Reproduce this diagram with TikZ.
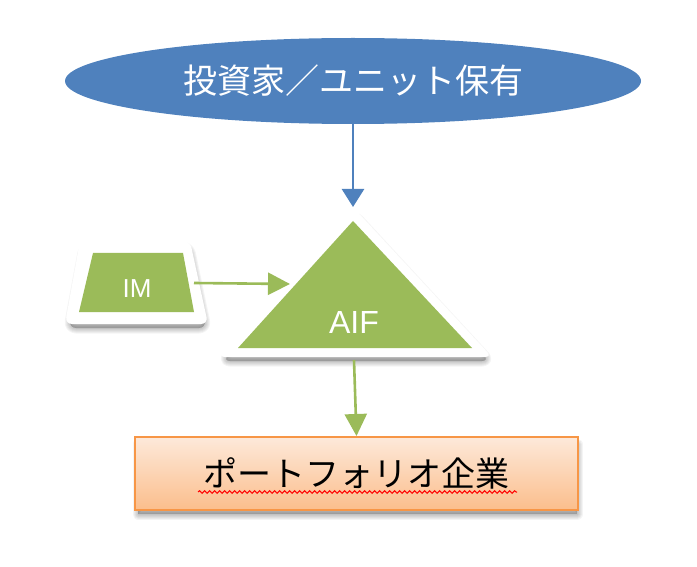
\documentclass[tikz,border=0pt]{standalone}
\usepackage{fontspec}
\setmainfont{Liberation Sans}
\newfontfamily\cjk{Noto Sans CJK JP}
\usetikzlibrary{shapes.geometric,arrows.meta,decorations.pathmorphing}
\definecolor{blueA}{HTML}{4F81BD}
\definecolor{greenA}{HTML}{9BBB59}
\definecolor{orangeA}{HTML}{F79646}
\definecolor{peachTop}{HTML}{FDE9DA}
\definecolor{peachBot}{HTML}{FBBE8C}
\tikzset{
  whitebox/.style={fill=white,rounded corners=7pt},
  greenshape/.style={fill=greenA},
  conn/.style={line width=2.6pt},
  bluearrow/.style={conn,blueA,-{Triangle[length=18pt,width=22pt]}},
  greenarrow/.style={conn,greenA,-{Triangle[length=22pt,width=22pt]}},
  lbl/.style={text=white,inner sep=0pt},
  softlayer/.style={draw=black,fill=black,opacity=0.045,line join=round}
}
% soft shadow: #1 = path, drawn shifted down
\newcommand{\mysoftshadow}[2][7pt]{%
  \foreach \w in {1,3,5,7,9,11}{%
    \path[softlayer,line width=\w pt,rounded corners=#1,yshift=-4pt,xshift=1pt] #2;}}
\begin{document}
\begin{tikzpicture}[x=1pt,y=-1pt]
\useasboundingbox (0,0) rectangle (697,567);
% investor ellipse
\node[ellipse,fill=blueA,minimum width=576pt,minimum height=86pt,inner sep=0pt,
  font=\cjk\fontsize{34}{34}\selectfont,text=white] (inv) at (353,81) {投資家／ユニット保有};
% AIF triangle
\coordinate (triTop) at (353,207);
\mysoftshadow{(353,211) -- (488,357) -- (222,357) -- cycle}
\draw[whitebox,draw=none] (triTop) -- (492,357) -- (218,357) -- cycle;
\fill[greenshape] (353,221) -- (472,348) -- (238,348) -- cycle;
\node[lbl,font=\fontsize{32}{32}\selectfont] (aif) at (354,322) {AIF};
\coordinate (triLeft) at (290,284);
\coordinate (triBot) at (354,360);
% IM trapezoid
\mysoftshadow{(83,243) -- (188,243) -- (205,324) -- (68,324) -- cycle}
\draw[whitebox,draw=none] (80,241) -- (190,241) -- (208,324) -- (65,324) -- cycle;
\fill[greenshape] (93,253) -- (183,253) -- (194,312) -- (79,312) -- cycle;
\node[lbl,font=\fontsize{26}{26}\selectfont] (im) at (137,289) {IM};
\coordinate (imRight) at (194,283);
% portfolio box
\mysoftshadow[0pt]{(137,440) rectangle (576,510)}
\node[draw=orangeA,line width=2pt,top color=peachTop,bottom color=peachBot,
  minimum width=443pt,minimum height=73pt,inner sep=0pt,
  font=\cjk\fontsize{34}{34}\selectfont] (pf) at (356.5,473.5) {ポートフォリオ企業};
\draw[red,line width=1pt,decorate,decoration={snake,amplitude=1.3pt,segment length=5pt}]
  (198,492) -- (517,492);
% connectors
\draw[bluearrow] (inv.south) -- (triTop);
\draw[greenarrow] (imRight) -- (triLeft);
\draw[greenarrow] (triBot) -- (pf.north);
\end{tikzpicture}
\end{document}
